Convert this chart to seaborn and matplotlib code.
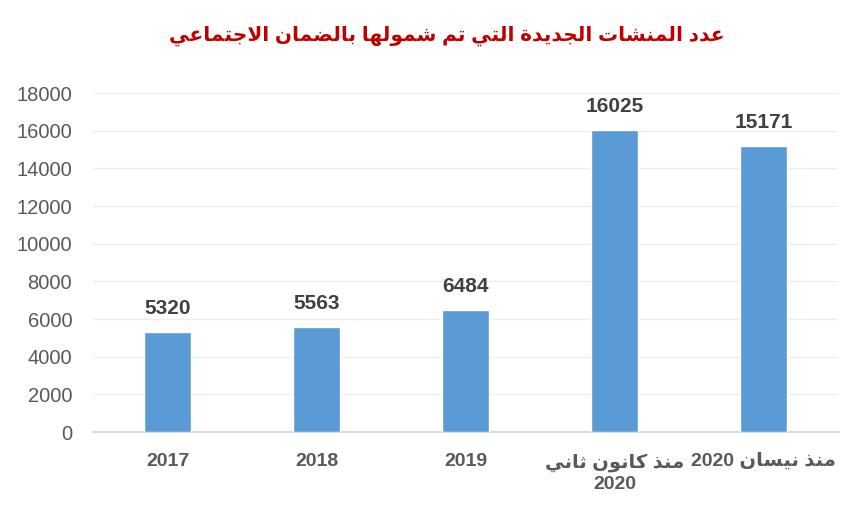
import numpy as np
import pandas as pd
import matplotlib
matplotlib.use('Agg')
import matplotlib.pyplot as plt
import seaborn as sns


title = 'عدد المنشات الجديدة التي تم شمولها بالضمان الاجتماعي'
categories = ['2017', '2018', '2019', 'منذ كانون ثاني\n2020', 'منذ نيسان 2020']
values = [5320, 5563, 6484, 16025, 15171]
yticks = [0, 2000, 4000, 6000, 8000, 10000, 12000, 14000, 16000, 18000]


# matplotlib has no arabic shaping, so pick the presentation forms by hand
dual = {'ب': 0xFE8F, 'ت': 0xFE95, 'ث': 0xFE99, 'ج': 0xFE9D, 'س': 0xFEB1,
        'ش': 0xFEB5, 'ض': 0xFEBD, 'ع': 0xFEC9, 'ك': 0xFED9, 'ل': 0xFEDD,
        'م': 0xFEE1, 'ن': 0xFEE5, 'ه': 0xFEE9, 'ي': 0xFEF1}
right = {'ا': 0xFE8D, 'ة': 0xFE93, 'د': 0xFEA9, 'ذ': 0xFEAB, 'و': 0xFEED,
         'لا': 0xFEFB}


def shape_word(word):
    if not any(c in dual or c in right for c in word):
        return word
    toks = []
    i = 0
    while i < len(word):
        if word[i] == 'ل' and i + 1 < len(word) and word[i + 1] == 'ا':
            toks.append('لا')
            i += 2
        else:
            toks.append(word[i])
            i += 1
    out = []
    for k, t in enumerate(toks):
        prev = k > 0 and toks[k - 1] in dual
        nxt = t in dual and k + 1 < len(toks)
        if t in dual:
            base = dual[t]
            code = base + (3 if prev and nxt else 1 if prev else 2 if nxt else 0)
        else:
            base = right[t]
            code = base + (1 if prev else 0)
        out.append(chr(code))
    return ''.join(out[::-1])


def shape(text):
    lines = []
    for line in text.split('\n'):
        words = [shape_word(w) for w in line.split(' ')]
        if any(w != o for w, o in zip(words, line.split(' '))):
            words = words[::-1]
        lines.append(' '.join(words))
    return '\n'.join(lines)


df = pd.DataFrame({'cat': [shape(c) for c in categories], 'val': values})

sns.set_theme(style='white')
plt.rcParams['font.family'] = ['Liberation Sans', 'DejaVu Sans']

fig = plt.figure(figsize=(8.55, 5.08), dpi=100)
ax = fig.add_axes([0.1088, 0.1496, 0.8713, 0.6673])

sns.barplot(data=df, x='cat', y='val', color='#5B9BD5', width=0.315,
            saturation=1, ax=ax, zorder=3)

ax.set_ylim(0, 18000)
ax.set_yticks(yticks)
ax.yaxis.grid(True, color='#EDEDED', linewidth=0.9, zorder=0)
ax.set_xlabel('')
ax.set_ylabel('')
for s in ['top', 'right', 'left']:
    ax.spines[s].set_visible(False)
ax.spines['bottom'].set_color('#D9D9D9')
ax.spines['bottom'].set_linewidth(1.5)

ax.tick_params(axis='y', labelsize=14.5, colors='#595959', length=0, pad=15)
ax.tick_params(axis='x', labelsize=14, colors='#595959', length=0, pad=15)
for lbl in ax.get_xticklabels():
    lbl.set_fontweight('bold')
    lbl.set_linespacing(1.3)

for p, v in zip(ax.patches, values):
    ax.annotate(str(v), (p.get_x() + p.get_width() / 2, p.get_height()),
                xytext=(0, 10), textcoords='offset points', ha='center',
                va='bottom', fontsize=15, fontweight='bold', color='#404040')

fig.text(0.523, 0.93, shape(title), ha='center', va='center', fontsize=14.5,
         fontweight='bold', color='#C00000')

fig.savefig('out.png', dpi=100)
